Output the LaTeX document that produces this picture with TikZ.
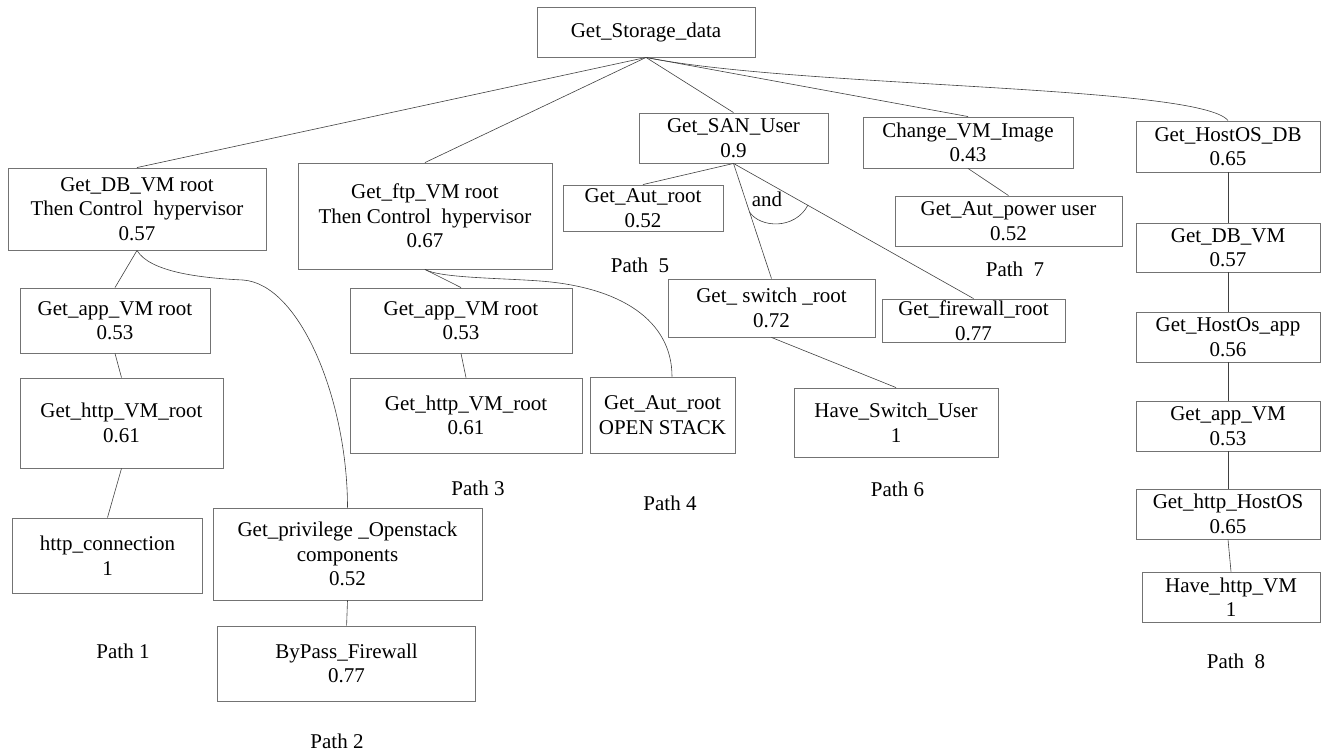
\documentclass[tikz,border=0pt]{standalone}
\usepackage{fontspec}
\setmainfont{Liberation Serif}
\newcommand\dfont{\fontsize{21}{24.5}\selectfont}
\tikzset{
  box/.style={draw=black!55, line width=0.9pt, inner sep=0pt, align=center, font=\dfont},
  lbl/.style={inner sep=0pt, align=center, font=\dfont},
  link/.style={draw=black!75, line width=0.6pt},
}
\begin{document}
\begin{tikzpicture}[x=1pt,y=-1pt]
\useasboundingbox (0,0) rectangle (1322,753);

% root goal
\node[box, minimum width=218pt, minimum height=50pt] (root) at (646,32) {Get\_Storage\_data};

% path 1 and path 2 branch
\node[box, minimum width=258pt, minimum height=82pt] (dbvm) at (137,209) {Get\_DB\_VM root\\Then Control~ hypervisor\\0.57};
\node[box, minimum width=190pt, minimum height=65pt] (appL) at (115,320.5) {Get\_app\_VM root\\0.53};
\node[box, minimum width=203pt, minimum height=90pt] (httpL) at (121.5,423) {Get\_http\_VM\_root\\0.61};
\node[box, minimum width=190pt, minimum height=75pt] (conn) at (107.5,555.5) {http\_connection\\1};
\node[box, minimum width=269pt, minimum height=92pt] (priv) at (347.5,554) {Get\_privilege \_Openstack\\components\\0.52};
\node[box, minimum width=258pt, minimum height=75pt] (bypass) at (346.6,663.5) {ByPass\_Firewall\\0.77};

% path 3 and path 4 branch
\node[box, minimum width=254pt, minimum height=106pt] (ftp) at (425,216) {Get\_ftp\_VM root\\Then Control~ hypervisor\\0.67};
\node[box, minimum width=222pt, minimum height=65pt] (appM) at (461,320.5) {Get\_app\_VM root\\0.53};
\node[box, minimum width=232pt, minimum height=75pt] (httpM) at (466,415.5) {Get\_http\_VM\_root\\0.61};
\node[box, minimum width=145pt, minimum height=76pt] (ostack) at (662.5,415) {Get\_Aut\_root\\OPEN STACK};

% path 5 and path 6 branch
\node[box, minimum width=189pt, minimum height=50pt] (san) at (733.5,138) {Get\_SAN\_User\\0.9};
\node[box, minimum width=160pt, minimum height=46pt] (aut5) at (643,208) {Get\_Aut\_root\\0.52};
\node[box, minimum width=207pt, minimum height=58pt] (switch) at (771.5,308) {Get\_ switch \_root\\0.72};
\node[box, minimum width=183pt, minimum height=43pt] (firewall) at (973.5,320.5) {Get\_firewall\_root\\0.77};
\node[box, minimum width=204pt, minimum height=69pt] (haveswitch) at (896,422.5) {Have\_Switch\_User\\1};

% path 7 branch
\node[box, minimum width=210pt, minimum height=51pt] (chg) at (968,142.5) {Change\_VM\_Image\\0.43};
\node[box, minimum width=227pt, minimum height=50pt] (autpow) at (1008.5,221) {Get\_Aut\_power user\\0.52};

% path 8 chain
\node[box, minimum width=184pt, minimum height=51pt] (hostdb) at (1228,146.5) {Get\_HostOS\_DB\\0.65};
\node[box, minimum width=184pt, minimum height=49pt] (dbvmR) at (1228,247.5) {Get\_DB\_VM\\0.57};
\node[box, minimum width=184pt, minimum height=50pt] (hostapp) at (1228,337) {Get\_HostOs\_app\\0.56};
\node[box, minimum width=184pt, minimum height=50pt] (appR) at (1228,426) {Get\_app\_VM\\0.53};
\node[box, minimum width=184pt, minimum height=50pt] (httphost) at (1228,514) {Get\_http\_HostOS\\0.65};
\node[box, minimum width=178pt, minimum height=50pt] (havehttp) at (1231,597) {Have\_http\_VM\\1};

% path labels
\node[lbl] (p1) at (123,651) {Path 1};
\node[lbl] (p2) at (337,741.5) {Path 2};
\node[lbl] (p3) at (478,488) {Path 3};
\node[lbl] (p4) at (670,503) {Path 4};
\node[lbl] (p5) at (640,265) {Path~ 5};
\node[lbl] (p6) at (897.5,489) {Path 6};
\node[lbl] (p7) at (1015,269) {Path~ 7};
\node[lbl] (p8) at (1236,661) {Path~ 8};
\node[lbl] (andlbl) at (767,199) {and};

% edges from the root
\draw[link] (root.south) -- (dbvm.north);
\draw[link] (root.south) -- (ftp.north);
\draw[link] (root.south) -- (san.north);
\draw[link] (root.south) -- (chg.north);
\draw[link] (root.south) .. controls (800,88) and (1200,85) .. (hostdb.north);

% path 1 / 2 edges
\draw[link] (dbvm.south) -- (appL.north);
\draw[link] (appL.south) -- (httpL.north);
\draw[link] (httpL.south) -- (conn.north);
\draw[link] (dbvm.south) .. controls (150,272) and (200,278) .. (243,280)
                         .. controls (300,284) and (347.5,400) .. (priv.north);
\draw[link] (priv.south) -- (bypass.north);

% path 3 / 4 edges
\draw[link] (ftp.south) -- (appM.north);
\draw[link] (appM.south) -- (httpM.north);
\draw[link] (ftp.south) .. controls (440,278) and (500,278) .. (540,281)
                        .. controls (620,287) and (672,320) .. ([xshift=9.5pt]ostack.north);

% path 5 / 6 edges
\draw[link] (san.south) -- (aut5.north);
\draw[link] (san.south) -- (switch.north);
\draw[link] (san.south) -- (firewall.north);
\draw[link] (switch.south) -- (haveswitch.north);
% conjunction arc
\draw[link] (749.5,212) .. controls (760,228) and (795,230) .. (808,205);

% path 7 edge
\draw[link] (chg.south) -- (autpow.north);

% path 8 edges
\draw[link] (hostdb.south) -- (dbvmR.north);
\draw[link] (dbvmR.south) -- (hostapp.north);
\draw[link] (hostapp.south) -- (appR.north);
\draw[link] (appR.south) -- (httphost.north);
\draw[link] (httphost.south) -- (havehttp.north);
\end{tikzpicture}
\end{document}
